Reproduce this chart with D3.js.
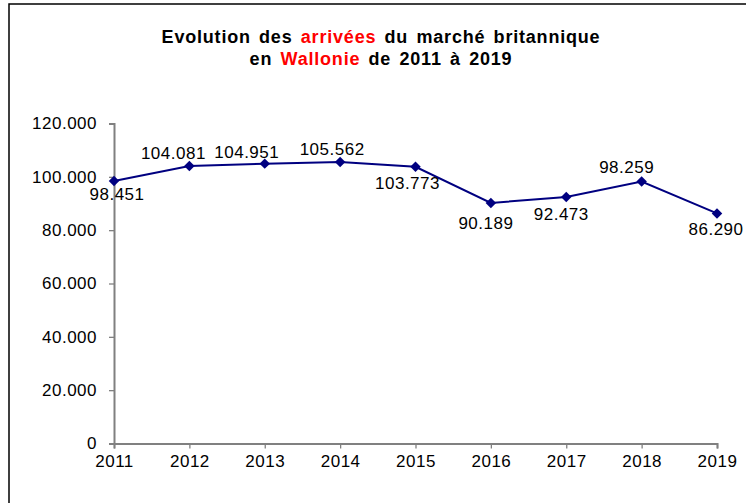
<!DOCTYPE html>
<html>
<head>
<meta charset="utf-8">
<script src="https://cdn.jsdelivr.net/npm/d3@7"></script>
<style>
  html, body { margin: 0; padding: 0; background: #fff; }
  svg { display: block; font-family: "Liberation Sans", Arial, sans-serif; }
</style>
</head>
<body>
<div id="chart"></div>
<script>
const years = ['2011', '2012', '2013', '2014', '2015', '2016', '2017', '2018', '2019'];
const arrivals = [98451, 104081, 104951, 105562, 103773, 90189, 92473, 98259, 86290];
const yTicks = [0, 20000, 40000, 60000, 80000, 100000, 120000];
// label placement relative to the point (pixels)
const labelDx = [3, -16, -18, -8, -8, -5, -5, -15, -1];
const labelDy = [19, -7, -6, -7, 22, 26, 23, -8, 22];

const W = 746, H = 503;
const M = { t: 123.5, r: 29, b: 59.5, l: 114 };

const svg = d3.select('#chart').append('svg')
  .attr('width', W)
  .attr('height', H)
  .attr('viewBox', `0 0 ${W} ${H}`);

// frame (only top and left edges visible in the reference)
svg.append('path')
  .attr('d', `M9,${H} L9,4 L${W},4`)
  .attr('fill', 'none')
  .attr('stroke', '#000')
  .attr('stroke-width', 1.5);

// title
const title = svg.append('text')
  .attr('text-anchor', 'middle')
  .style('font-size', '18px')
  .style('font-weight', 'bold')
  .style('letter-spacing', '0.8px')
  .style('word-spacing', '2.5px');
const l1 = title.append('tspan').attr('x', 381).attr('y', 43);
l1.append('tspan').text('Evolution des ');
l1.append('tspan').attr('fill', '#ff0000').text('arrivées');
l1.append('tspan').text(' du marché britannique');
const l2 = title.append('tspan').attr('x', 381).attr('y', 65);
l2.append('tspan').text('en ');
l2.append('tspan').attr('fill', '#ff0000').text('Wallonie');
l2.append('tspan').text(' de 2011 à 2019');

const x = d3.scalePoint()
  .domain(years)
  .range([M.l, W - M.r]);

const y = d3.scaleLinear()
  .domain([0, 120000])
  .range([H - M.b, M.t]);

const fmt = v => v === 0 ? '0' : d3.format(',')(v).replace(/,/g, '.');

const yAxis = svg.append('g')
  .attr('transform', `translate(${M.l},0)`)
  .call(d3.axisLeft(y).tickValues(yTicks).tickSize(5).tickPadding(12).tickFormat(fmt));

const xAxis = svg.append('g')
  .attr('transform', `translate(0,${H - M.b})`)
  .call(d3.axisBottom(x).tickSize(5).tickPadding(6));

[yAxis, xAxis].forEach(g => {
  g.select('.domain').attr('stroke', '#808080').attr('stroke-width', 2);
  g.selectAll('.tick line').attr('stroke', '#808080').attr('stroke-width', 1.3);
  g.selectAll('.tick text')
    .attr('fill', '#000')
    .style('font-size', '17px')
    .style('letter-spacing', '0.5px')
    .style('font-family', '"Liberation Sans", Arial, sans-serif');
});

const pts = years.map((yr, i) => ({ yr, v: arrivals[i], dx: labelDx[i], dy: labelDy[i] }));

svg.append('path')
  .datum(pts)
  .attr('fill', 'none')
  .attr('stroke', '#000080')
  .attr('stroke-width', 2)
  .attr('d', d3.line().x(d => x(d.yr)).y(d => y(d.v)));

svg.selectAll('path.mk')
  .data(pts)
  .enter().append('path')
  .attr('class', 'mk')
  .attr('d', d3.symbol().type(d3.symbolDiamond2).size(70))
  .attr('transform', d => `translate(${x(d.yr)},${y(d.v)})`)
  .attr('fill', '#000080');

svg.selectAll('text.lbl')
  .data(pts)
  .enter().append('text')
  .attr('class', 'lbl')
  .attr('x', d => x(d.yr) + d.dx)
  .attr('y', d => y(d.v) + d.dy)
  .attr('text-anchor', 'middle')
  .style('font-size', '17px')
  .style('letter-spacing', '0.5px')
  .attr('fill', '#000')
  .text(d => fmt(d.v));
</script>
</body>
</html>
